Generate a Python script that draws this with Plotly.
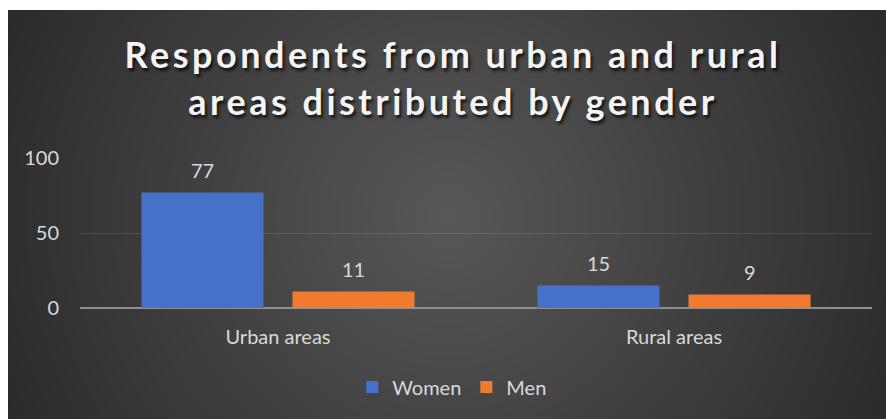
import base64, struct, zlib
import numpy as np
import plotly.graph_objects as go

# ---- data ----
categories = ["Urban areas", "Rural areas"]
women = [77, 15]
men = [11, 9]
series_names = ["Women", "Men"]
y_ticks = [0, 50, 100]

W, H = 886, 419
FONT = "Lato"
TXT = "#d9d9d9"

# ---- decorative radial-gradient background as PNG data URI ----
bw, bh = 878, 409
yy, xx = np.mgrid[0:bh, 0:bw]
cx, cy = 440, 205
d = np.sqrt((xx - cx) ** 2 + (yy - cy) ** 2) / 530.0
d = np.clip(d, 0, 1)
inner, outer = 88, 39
img = (inner + (outer - inner) * d).astype(np.uint8)
raw = b"".join(b"\x00" + img[r].tobytes() for r in range(bh))
def chunk(t, data):
    c = struct.pack(">I", len(data)) + t + data
    return c + struct.pack(">I", zlib.crc32(t + data) & 0xffffffff)
png = b"\x89PNG\r\n\x1a\n" + chunk(b"IHDR", struct.pack(">IIBBBBB", bw, bh, 8, 0, 0, 0, 0)) \
    + chunk(b"IDAT", zlib.compress(raw, 9)) + chunk(b"IEND", b"")
bg_uri = "data:image/png;base64," + base64.b64encode(png).decode()

ml, mr, mt, mb = 80, 14, 158, 111
pw, ph = W - ml - mr, H - mt - mb

fig = go.Figure()
fig.add_bar(x=categories, y=women, name=series_names[0], marker=dict(color="#4472c9", line=dict(width=0)))
fig.add_bar(x=categories, y=men, name=series_names[1], marker=dict(color="#f07b2e", line=dict(width=0)))

for vals, shift in [(women, -75.5), (men, 75.5)]:
    for c, v in zip(categories, vals):
        fig.add_annotation(x=c, y=v, text=str(v), showarrow=False, xshift=shift, yshift=23,
                           yanchor="middle", font=dict(family=FONT, size=20, color=TXT))

fig.add_layout_image(source=bg_uri, xref="paper", yref="paper",
                     x=(8 - ml) / pw, y=(H - mb - 10) / ph, sizex=bw / pw, sizey=bh / ph,
                     xanchor="left", yanchor="top", sizing="stretch", layer="below")

fig.update_layout(
    width=W, height=H,
    margin=dict(l=ml, r=mr, t=mt, b=mb),
    paper_bgcolor="white", plot_bgcolor="rgba(0,0,0,0)",
    barmode="group", bargap=0.237, bargroupgap=0.192,
    title=dict(
        text='<span style="letter-spacing:3.5px">Respondents from urban and rural<br>areas distributed by gender</span>',
        x=453 / W, xanchor="center", xref="container", y=1 - 68 / H, yanchor="middle", yref="container",
        font=dict(family=FONT, size=36, color="#f4f4f4", weight="bold",
                  shadow="2px 3px 3px rgba(0,0,0,0.7)")),
    font=dict(family=FONT, size=20, color=TXT),
    showlegend=True,
    legend=dict(orientation="h", x=0.47, xanchor="center", y=(ph - (387 - mt)) / ph, yanchor="middle",
                font=dict(family=FONT, size=20, color=TXT), bgcolor="rgba(0,0,0,0)",
                itemwidth=30, traceorder="normal"),
    xaxis=dict(showgrid=False, showline=False, ticks="", tickfont=dict(size=20, color=TXT),
               ticklabelstandoff=15),
    yaxis=dict(range=[0, 100], tickvals=y_ticks, showgrid=True, gridcolor="rgba(255,255,255,0.10)",
               gridwidth=1, zeroline=True, zerolinecolor="#8f8f8f", zerolinewidth=2,
               showline=False, ticks="", tickfont=dict(size=20, color=TXT), ticklabelstandoff=20),
)
fig.write_html("out.html")
